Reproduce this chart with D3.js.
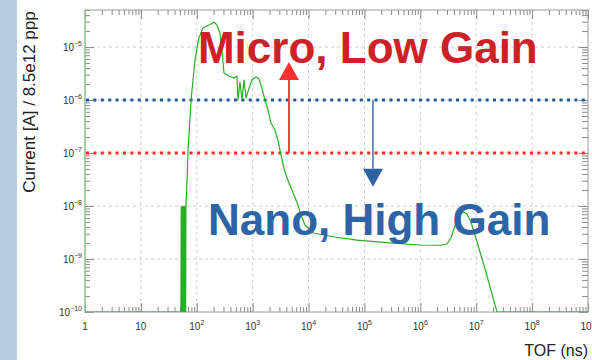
<!DOCTYPE html>
<html>
<head>
<meta charset="utf-8">
<script src="https://cdn.jsdelivr.net/npm/d3@7"></script>
<style>
  html, body { margin: 0; padding: 0; background: #fff; }
  svg { display: block; font-family: "Liberation Sans", Arial, sans-serif; }
</style>
</head>
<body>
<svg id="chart" width="592" height="360"></svg>
<script>
// Time of flight (ns) and beam current per 8.5e12 protons
const tof = [1, 52, 52.7, 53.4, 54.1, 54.8, 55.5, 56.2, 56.9, 57.6, 58.3, 59, 59.7, 60.4, 61.1, 61.8, 62.5, 63.2, 64,
  67, 70, 79, 93, 109, 129, 152, 180, 203, 230, 260, 282, 307, 377, 463, 524,
  546, 593, 644, 699, 759, 859, 972, 1146, 1297, 1466, 1660, 1878, 2125, 2505, 2836, 3207, 3630, 4109, 4648, 5480,
  6459, 7309, 8620, 12000, 29650, 73450, 3.24e5, 9.85e5, 2.24e6, 2.99e6, 3.53e6, 4.16e6, 4.9e6, 5.78e6, 6.82e6,
  8.04e6, 9.88e6, 1.21e7, 1.49e7, 1.83e7, 2.25e7, 2.35e7, 1e9];
const current = [1e-10, 1e-10, 9.6e-9, 1e-10, 9.6e-9, 1e-10, 9.6e-9, 1e-10, 9.8e-9, 1e-10, 9.8e-9, 1e-10, 9.8e-9,
  1e-10, 1e-8, 1e-10, 1e-8, 1e-10, 1.05e-8,
  3.1e-8, 1.19e-7, 1e-6, 5.7e-6, 1.48e-5, 2.28e-5, 2.49e-5, 2.72e-5, 2.96e-5, 2.6e-5, 1.84e-5, 8.8e-6, 3.23e-6,
  2.84e-6, 2.6e-6, 2.84e-6,
  1e-6, 2.19e-6, 1e-6, 2.38e-6, 1.09e-6, 1.68e-6, 2.38e-6, 2.72e-6, 2.5e-6, 1.68e-6, 1e-6, 6.5e-7, 3.68e-7, 2.72e-7,
  1.76e-7, 9.2e-8, 5.2e-8, 3.37e-8, 2.49e-8, 1.61e-8, 1.05e-8, 6.8e-9, 4.38e-9, 3.1e-9, 2.6e-9, 2.28e-9, 2.0e-9,
  1.84e-9, 1.82e-9, 1.92e-9, 2.49e-9, 4.2e-9, 6.5e-9, 7.7e-9, 7.1e-9, 5.0e-9, 2.49e-9, 1.19e-9, 5.7e-10, 2.6e-10,
  1.19e-10, 1e-10, 1e-10];

// Gain-range thresholds
const thresholds = [
  { name: "nano", value: 1e-6 },
  { name: "micro", value: 1e-7 }
];
// Arrows: position in TOF, start and tip current
const arrows = [
  { name: "micro", t: 4460, from: 1e-7, to: 5.2e-6 },
  { name: "nano", t: 1.42e5, from: 1e-6, to: 2.3e-8 }
];
// Range labels, anchored at their left baseline
const labels = [
  { name: "micro", text: "Micro, Low Gain", t: 105, v: 5.0e-6 },
  { name: "nano", text: "Nano, High Gain", t: 159, v: 2.84e-9 }
];

const xDecades = [0, 1, 2, 3, 4, 5, 6, 7, 8, 9];
const yDecades = [-10, -9, -8, -7, -6, -5];
const xDomain = [1, 1e9];
const yDomain = [1e-10, 5e-5];

const xTitle = "TOF (ns)";
const yTitle = "Current [A] / 8.5e12 ppp";

const colors = {
  curve: "#27ad27",
  nano: "#1f5b9b",
  micro: "#ff2a2a",
  microText: "#cc2127",
  nanoText: "#2c64a5",
  microArrow: "#ff3030",
  nanoArrowLine: "#5f87bb",
  nanoArrowHead: "#2c62a1"
};

const svg = d3.select("#chart");
const W = 592, H = 360;
const m = { left: 85, right: 4, top: 10, bottom: 48 };
const x = d3.scaleLog().domain(xDomain).range([m.left, W - m.right]);
const y = d3.scaleLog().domain(yDomain).range([H - m.bottom, m.top]).clamp(true);
const [x0, x1] = x.range();
const [y0, y1] = [y.range()[1], y.range()[0]];

// side strip
svg.append("rect").attr("x", 0).attr("y", 0).attr("width", 17).attr("height", H).attr("fill", "#b8cce1");

// grid
const gridX = xDecades.slice(1, -1).map(d => Math.pow(10, d));
const gridY = yDecades.slice(1).map(d => Math.pow(10, d));
svg.append("g").selectAll("line").data(gridX).join("line")
  .attr("x1", d => x(d)).attr("x2", d => x(d)).attr("y1", y0).attr("y2", y1)
  .attr("stroke", "#cfcfcf").attr("stroke-dasharray", "3,3");
svg.append("g").selectAll("line").data(gridY).join("line")
  .attr("x1", x0).attr("x2", x1).attr("y1", d => y(d)).attr("y2", d => y(d))
  .attr("stroke", "#cfcfcf").attr("stroke-dasharray", "3,3");

// ticks
const xMajor = xDecades.map(d => Math.pow(10, d));
const xMinor = [];
xDecades.slice(0, -1).forEach(d => { for (let k = 2; k <= 9; k++) xMinor.push(k * Math.pow(10, d)); });
const yMajor = yDecades.map(d => Math.pow(10, d));
const yMinor = [];
yDecades.forEach(d => { for (let k = 2; k <= 9; k++) { const v = k * Math.pow(10, d); if (v <= yDomain[1]) yMinor.push(v); } });

function tickAxis(axisFn, scale, values, size, transform) {
  const g = svg.append("g").attr("transform", transform)
    .call(axisFn(scale).tickValues(values).tickSizeInner(-size).tickSizeOuter(0).tickFormat(""));
  g.select(".domain").remove();
  g.selectAll("line").attr("stroke", "#8a8a8a");
}
tickAxis(d3.axisBottom, x, xMajor, 9, `translate(0,${y1})`);
tickAxis(d3.axisBottom, x, xMinor, 5, `translate(0,${y1})`);
tickAxis(d3.axisTop, x, xMajor, 9, `translate(0,${y0})`);
tickAxis(d3.axisTop, x, xMinor, 5, `translate(0,${y0})`);
tickAxis(d3.axisLeft, y, yMajor, 9, `translate(${x0},0)`);
tickAxis(d3.axisLeft, y, yMinor, 5, `translate(${x0},0)`);
tickAxis(d3.axisRight, y, yMajor, 9, `translate(${x1},0)`);
tickAxis(d3.axisRight, y, yMinor, 6, `translate(${x1},0)`);

// frame
svg.append("rect").attr("x", x0).attr("y", y0).attr("width", x1 - x0).attr("height", y1 - y0)
  .attr("fill", "none").attr("stroke", "#9a9a9a").attr("stroke-width", 1);

// tick labels
const labelColor = "#333";
const xl = svg.append("g").attr("font-size", 10).attr("fill", labelColor).attr("text-anchor", "middle");
xDecades.forEach(d => {
  const t = xl.append("text").attr("x", x(Math.pow(10, d))).attr("y", y1 + 18);
  if (d === 0) t.text("1");
  else if (d === 1) t.text("10");
  else { t.append("tspan").text("10"); t.append("tspan").attr("dy", -5).attr("font-size", 7).text(d); }
});
const yl = svg.append("g").attr("font-size", 10).attr("fill", labelColor).attr("text-anchor", "end");
yDecades.forEach(d => {
  const t = yl.append("text").attr("x", x0 - 3).attr("y", y(Math.pow(10, d)) + 4);
  t.append("tspan").text("10");
  t.append("tspan").attr("dy", -5).attr("font-size", 7).text("\u2212" + (-d));
});

// axis titles
svg.append("text").attr("x", x1).attr("y", 356).attr("text-anchor", "end")
  .attr("font-size", 16).attr("fill", "#222").text(xTitle);
svg.append("text").attr("transform", `translate(35,${(y0 + y1) / 2 - 59}) rotate(-90)`)
  .attr("text-anchor", "middle").attr("font-size", 17).attr("fill", "#222").text(yTitle);

// clip to the plot frame
svg.append("clipPath").attr("id", "plotclip").append("rect")
  .attr("x", x0).attr("y", y0).attr("width", x1 - x0).attr("height", y1 - y0);

// threshold lines
svg.append("g").selectAll("line").data(thresholds).join("line")
  .attr("x1", x0 + 1).attr("x2", x1).attr("y1", d => y(d.value)).attr("y2", d => y(d.value))
  .attr("stroke", d => colors[d.name]).attr("stroke-width", 3).attr("stroke-dasharray", "3,4.4");

// curve
const pts = tof.map((t, i) => [t, current[i]]);
svg.append("path").datum(pts).attr("clip-path", "url(#plotclip)")
  .attr("fill", "none").attr("stroke", colors.curve).attr("stroke-width", 1.2).attr("stroke-linejoin", "round")
  .attr("d", d3.line().x(d => x(d[0])).y(d => y(d[1])));
// left edge of the curve (overflowing first bin)
svg.append("line").attr("x1", x0).attr("x2", x0).attr("y1", y0).attr("y2", y1)
  .attr("stroke", "#8fd38f").attr("stroke-width", 1.2);

// arrows
const headW = 10, headL = 18;
arrows.forEach(a => {
  const ax = x(a.t), ya = y(a.from), yb = y(a.to);
  const dir = yb < ya ? -1 : 1;
  const base = yb - dir * headL;
  svg.append("line").attr("x1", ax).attr("x2", ax).attr("y1", ya).attr("y2", base)
    .attr("stroke", a.name === "micro" ? colors.microArrow : colors.nanoArrowLine).attr("stroke-width", 1.8);
  svg.append("path")
    .attr("d", `M${ax - headW},${base}L${ax + headW},${base}L${ax},${yb}Z`)
    .attr("fill", a.name === "micro" ? colors.microArrow : colors.nanoArrowHead);
});

// range labels
svg.append("g").selectAll("text").data(labels).join("text")
  .attr("x", d => x(d.t)).attr("y", d => y(d.v))
  .attr("font-size", 44).attr("font-weight", "bold")
  .attr("fill", d => d.name === "micro" ? colors.microText : colors.nanoText)
  .text(d => d.text);
</script>
</body>
</html>
